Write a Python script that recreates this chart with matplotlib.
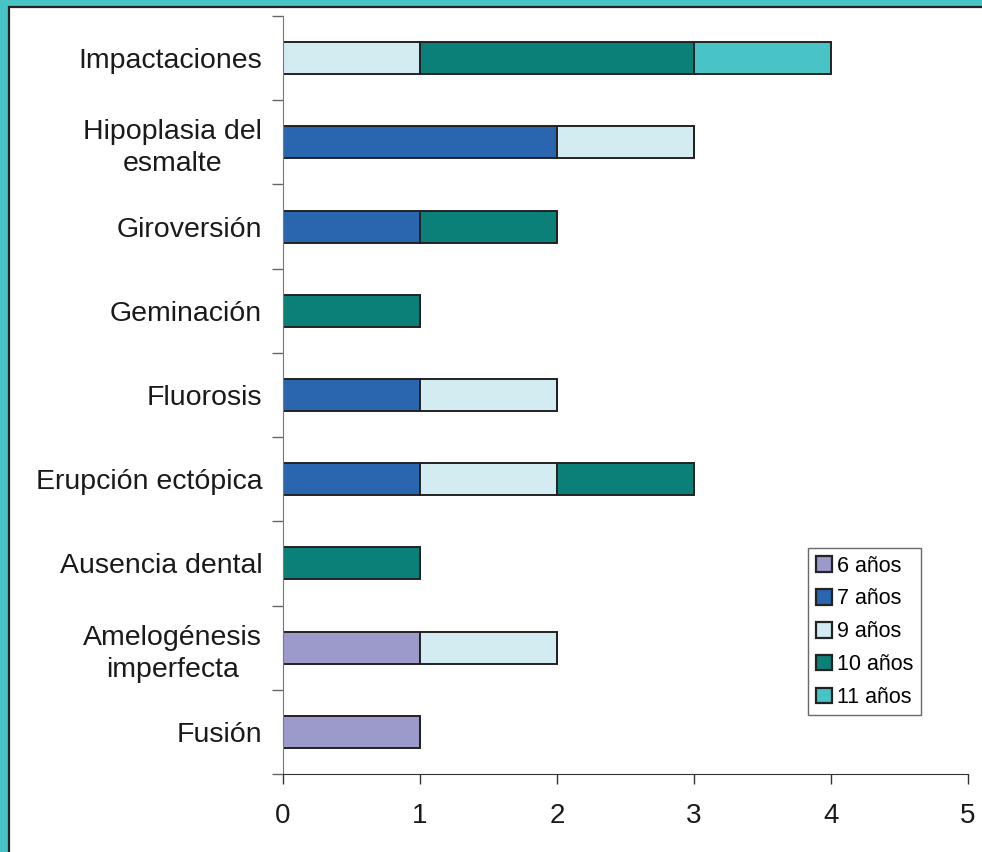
import numpy as np
import matplotlib.pyplot as plt
from matplotlib.patches import Rectangle
from matplotlib.ticker import FixedLocator

plt.rcParams['font.family'] = ['Liberation Sans', 'DejaVu Sans']

# categories listed bottom to top
categorias = ["Fusión", "Amelogénesis\nimperfecta", "Ausencia dental",
              "Erupción ectópica", "Fluorosis", "Geminación", "Giroversión",
              "Hipoplasia del\nesmalte", "Impactaciones"]

edades = ["6 años", "7 años", "9 años", "10 años", "11 años"]
colores = ["#9B9ACB", "#2A66B0", "#D2ECF1", "#0B8078", "#48C3C6"]

seis = [1, 1, 0, 0, 0, 0, 0, 0, 0]
siete = [0, 0, 0, 1, 1, 0, 1, 2, 0]
nueve = [0, 1, 0, 1, 1, 0, 0, 1, 1]
diez = [0, 0, 1, 1, 0, 1, 1, 0, 2]
once = [0, 0, 0, 0, 0, 0, 0, 0, 1]

series = [seis, siete, nueve, diez, once]

fig = plt.figure(figsize=(9.82, 8.52), dpi=100, facecolor="#48C3C6")
# white panel inside the teal frame
panel = Rectangle((9 / 982, -0.1), 1.2, 1 - 7 / 852 + 0.1, transform=fig.transFigure,
                  facecolor="white", edgecolor="#222222", linewidth=1.6, zorder=-10)
fig.patches.append(panel)

ax = fig.add_axes([283 / 982, 1 - 774 / 852, 685 / 982, 758 / 852])
ax.set_facecolor("none")

y = np.arange(len(categorias))
left = np.zeros(len(categorias))
for lab, col, vals in zip(edades, colores, series):
    vals = np.array(vals, dtype=float)
    ax.barh(y, vals, left=left, height=0.38, color=col, edgecolor="#222222",
            linewidth=1.4, label=lab)
    left += vals

ax.set_xlim(0, 5)
ax.set_ylim(-0.5, len(categorias) - 0.5)
ax.set_xticks(range(6))
ax.tick_params(axis="x", labelsize=20, length=7, width=1, color="#333333",
               pad=14, colors="#1a1a1a")

ax.set_yticks(y)
ax.set_yticklabels(categorias, fontsize=20.5, color="#1a1a1a",
                   multialignment="center", linespacing=1.3)
ax.tick_params(axis="y", length=0, pad=15)
ax.yaxis.set_minor_locator(FixedLocator(np.arange(-0.5, len(categorias), 1)))
ax.tick_params(axis="y", which="minor", length=8, width=1, color="#666666")

for s in ["top", "right"]:
    ax.spines[s].set_visible(False)
ax.spines["left"].set_color("#777777")
ax.spines["bottom"].set_color("#333333")

leg = ax.legend(loc="upper left", bbox_to_anchor=(525 / 685, 1 - 532 / 758),
                fontsize=15.5, frameon=True, fancybox=False, edgecolor="#444444",
                handlelength=0.75, handleheight=0.75, handletextpad=0.25,
                labelspacing=0.55, borderpad=0.35, borderaxespad=0)
leg.get_frame().set_linewidth(1)
for h in leg.legend_handles:
    h.set_linewidth(1.6)

fig.savefig("out.png", dpi=100, facecolor=fig.get_facecolor())
